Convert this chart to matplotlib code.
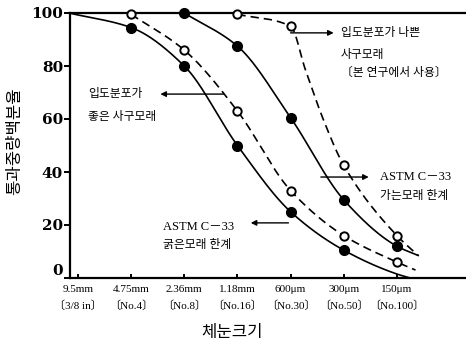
import numpy as np
import matplotlib
matplotlib.use("Agg")
import matplotlib.pyplot as plt

plt.rcParams['font.family'] = ['Liberation Serif', 'Noto Sans CJK KR']

# sieve labels (x axis, index 0..6)
sieve_sizes = ['9.5mm', '4.75mm', '2.36mm', '1.18mm', '600\u03bcm', '300\u03bcm', '150\u03bcm']
sieve_nos = ['\u30143/8 in\u3015', '\u3014No.4\u3015', '\u3014No.8\u3015', '\u3014No.16\u3015',
             '\u3014No.30\u3015', '\u3014No.50\u3015', '\u3014No.100\u3015']
y_ticks = [0, 20, 40, 60, 80, 100]

# ASTM C-33 coarse limit (solid, lower)
coarse_x = [-0.17, 1, 2, 3, 4, 5, 6, 6.25]
coarse_y = [100, 94.5, 80, 50, 25, 10.5, 1.5, 0]
coarse_mx = [1, 2, 3, 4, 5]
coarse_my = [94.5, 80, 50, 25, 10.5]

# ASTM C-33 fine limit (solid, upper)
fine_x = [2, 3, 4, 5, 6, 6.4]
fine_y = [100, 87.5, 60.5, 29.5, 12, 8.5]
fine_mx = [2, 3, 4, 5, 6]
fine_my = [100, 87.5, 60.5, 29.5, 12]

# well graded dune sand (dashed, lower)
good_x = [1, 2, 3, 4, 5, 6, 6.35]
good_y = [99.5, 86, 63, 33, 16, 6, 3]
good_mx = [1, 2, 3, 4, 5, 6]
good_my = [99.5, 86, 63, 33, 16, 6]

# poorly graded dune sand used in this study (dashed, upper)
poor_x = [3, 4, 4.28, 4.62, 5, 6, 6.4]
poor_y = [99.5, 95, 78.5, 59.6, 42.5, 16, 8.5]
poor_mx = [3, 4, 5, 6]
poor_my = [99.5, 95, 42.5, 16]


def pchip(x, y, n=200):
    # monotone cubic through the read points, only for a smooth stroke
    x = np.asarray(x, float)
    y = np.asarray(y, float)
    h = np.diff(x)
    s = np.diff(y) / h
    d = np.zeros_like(y)
    d[0] = s[0]
    d[-1] = s[-1]
    for k in range(1, len(x) - 1):
        if s[k - 1] * s[k] > 0:
            w1 = 2 * h[k] + h[k - 1]
            w2 = h[k] + 2 * h[k - 1]
            d[k] = (w1 + w2) / (w1 / s[k - 1] + w2 / s[k])
    xs, ys = [], []
    for k in range(len(x) - 1):
        t = np.linspace(0, 1, n)
        h00 = 2 * t**3 - 3 * t**2 + 1
        h10 = t**3 - 2 * t**2 + t
        h01 = -2 * t**3 + 3 * t**2
        h11 = t**3 - t**2
        xs.append(x[k] + t * h[k])
        ys.append(h00 * y[k] + h10 * h[k] * d[k] + h01 * y[k + 1] + h11 * h[k] * d[k + 1])
    return np.concatenate(xs), np.concatenate(ys)


fig = plt.figure(figsize=(4.66, 3.45), dpi=100)
ax = fig.add_axes([70 / 466, 1 - 278 / 345, 396 / 466, 265 / 345])

lw = 1.2
for cx, cy in [(coarse_x, coarse_y), (fine_x, fine_y)]:
    sx, sy = pchip(cx, cy)
    ax.plot(sx, sy, color='k', lw=lw, clip_on=False)
for cx, cy in [(good_x, good_y), (poor_x, poor_y)]:
    sx, sy = pchip(cx, cy)
    ax.plot(sx, sy, color='k', lw=lw, dashes=(5, 3), clip_on=False)

ax.plot(coarse_mx, coarse_my, 'o', color='k', ms=7, clip_on=False, zorder=5)
ax.plot(fine_mx, fine_my, 'o', color='k', ms=7, clip_on=False, zorder=5)
ax.plot(good_mx, good_my, 'o', mfc='white', mec='k', mew=1.4, ms=6, clip_on=False, zorder=5)
ax.plot(poor_mx, poor_my, 'o', mfc='white', mec='k', mew=1.4, ms=6, clip_on=False, zorder=5)

ax.set_xlim(-0.15, 7.3)
ax.set_ylim(0, 100)
ax.spines['right'].set_visible(False)
for sp in ['left', 'bottom', 'top']:
    ax.spines[sp].set_linewidth(1.6)

ax.set_yticks(y_ticks)
ax.set_yticklabels([str(v) for v in y_ticks], family='DejaVu Serif',
                   fontweight='bold', fontsize=11)
ax.tick_params(axis='y', direction='out', length=4, width=1.4, pad=1)
ax.get_yticklabels()[0].set_va('bottom')

ax.set_xticks(range(len(sieve_sizes)))
ax.set_xticklabels([a + '\n' + b for a, b in zip(sieve_sizes, sieve_nos)], fontsize=8)
ax.tick_params(axis='x', direction='in', length=3, width=1.4, pad=5)
for lab in ax.get_xticklabels():
    lab.set_linespacing(1.7)

fig.text(232 / 466, 1 - 333 / 345, '체눈크기', family='Noto Sans CJK KR',
         fontsize=12, ha='center', va='center')
fig.text(15 / 466, 1 - 141 / 345, '통과중량백분율', family='Noto Sans CJK KR',
         fontsize=12, rotation=90, ha='center', va='center')

arrow = dict(arrowstyle='-|>', color='k', lw=1.0, mutation_scale=8, shrinkA=0, shrinkB=0)
kr = ['Liberation Serif', 'Noto Sans CJK KR']

ax.annotate('', xy=(1.55, 69.4), xytext=(2.74, 69.4), arrowprops=arrow)
ax.text(0.19, 69.4, '입도분포가', family=kr, fontsize=8.5, va='center')
ax.text(0.19, 60.8, '좋은 사구모래', family=kr, fontsize=8.5, va='center')

ax.annotate('', xy=(4.81, 92.5), xytext=(4.0, 92.5), arrowprops=arrow)
ax.text(4.94, 92.5, '입도분포가 나쁜', family=kr, fontsize=8.5, va='center')
ax.text(4.94, 84.2, '사구모래', family=kr, fontsize=8.5, va='center')
ax.text(4.94, 77.4, '〔본 연구에서 사용〕', family=kr, fontsize=8.5, va='center')

ax.annotate('', xy=(5.47, 38.1), xytext=(4.57, 38.1), arrowprops=arrow)
ax.text(5.68, 38.1, 'ASTM C－33', family=kr, fontsize=9, va='center')
ax.text(5.68, 30.9, '가는모래 한계', family=kr, fontsize=8.5, va='center')

ax.annotate('', xy=(3.25, 20.8), xytext=(3.96, 20.8), arrowprops=arrow)
ax.text(1.6, 19.2, 'ASTM C－33', family=kr, fontsize=9, va='center')
ax.text(1.6, 12.5, '굵은모래 한계', family=kr, fontsize=8.5, va='center')

fig.savefig('out.png', dpi=100)
